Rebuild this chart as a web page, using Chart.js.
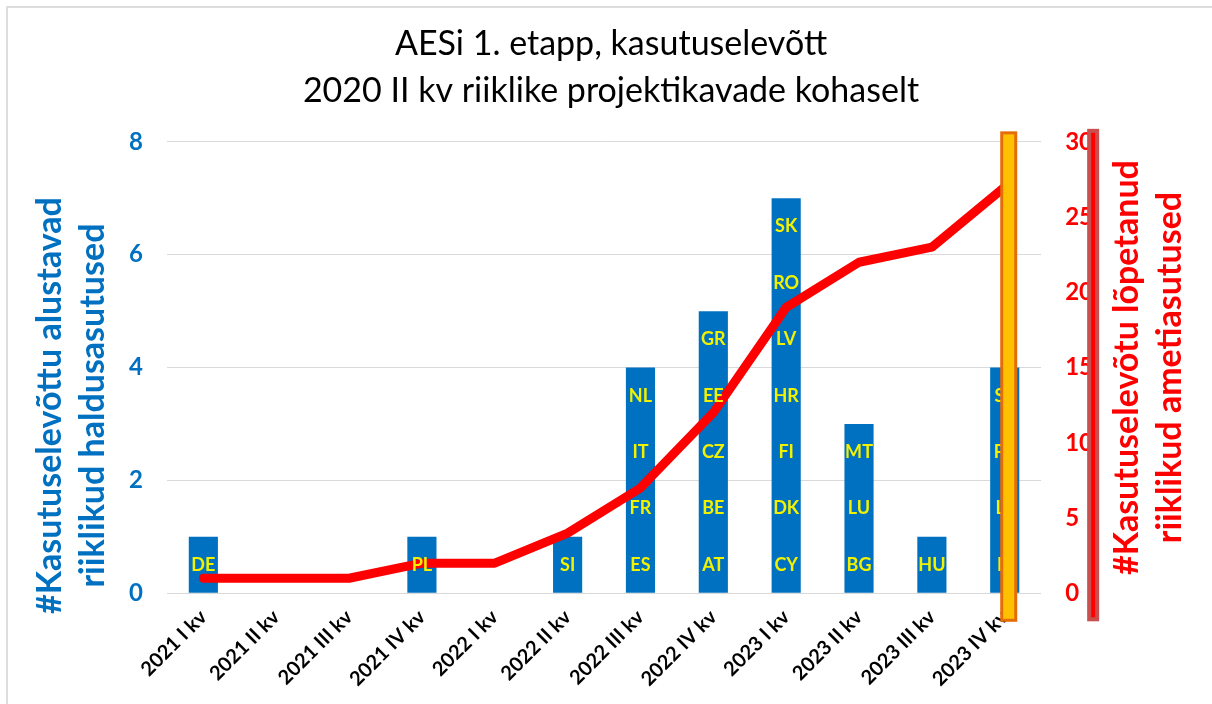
<!DOCTYPE html>
<html>
<head>
<meta charset="utf-8">
<script src="https://cdn.jsdelivr.net/npm/chart.js@4.4.1/dist/chart.umd.min.js"></script>
<style>
  body { margin: 0; background: #fff; }
  #raam { position: absolute; left: 6px; top: 6px; width: 1206px; height: 698px;
          border-left: 2px solid #dddddd; border-top: 2px solid #dddddd; }
  #graafik { position: absolute; left: 0; top: 0; }
</style>
</head>
<body>
<div id="raam"></div>
<canvas id="graafik" width="1212" height="704"></canvas>
<script>
// kvartalid
const kvartalid = ["2021 I kv", "2021 II kv", "2021 III kv", "2021 IV kv",
  "2022 I kv", "2022 II kv", "2022 III kv", "2022 IV kv",
  "2023 I kv", "2023 II kv", "2023 III kv", "2023 IV kv"];
// kasutuselevõttu alustavad (tulbad)
const alustavad = [1, 0, 0, 1, 0, 1, 4, 5, 7, 3, 1, 4];
// kasutuselevõtu lõpetanud, kumulatiivne (joon)
const lopetanud = [1, 1, 1, 2, 2, 4, 7, 12, 19, 22, 23, 27];
// riigid tulpade sees
const riigid = [["DE"], [], [], ["PL"], [], ["SI"],
  ["ES", "FR", "IT", "NL"],
  ["AT", "BE", "CZ", "EE", "GR"],
  ["CY", "DK", "FI", "HR", "LV", "RO", "SK"],
  ["BG", "LU", "MT"],
  ["HU"],
  ["IE", "LT", "PT", "SE"]];
const vasakTikid = [0, 2, 4, 6, 8];
const paremTikid = [0, 5, 10, 15, 20, 25, 30];
const vasakPealkiri = ["#Kasutuselevõttu alustavad", "riiklikud haldusasutused"];
const paremPealkiri = ["#Kasutuselevõtu lõpetanud", "riiklikud ametiasutused"];

const sinine = "#0070C0";
const punane = "#FF0000";
const kiri = "Lato, 'Open Sans', sans-serif";

// riikide lühendid tulpadesse (joone peale, nagu Excelis)
const riigiSildid = {
  id: "riigiSildid",
  afterDatasetsDraw(chart) {
    const ctx = chart.ctx;
    const y = chart.scales.y;
    const meta = chart.getDatasetMeta(0);
    ctx.save();
    ctx.font = "bold 18px " + kiri;
    ctx.fillStyle = "#F2F200";
    ctx.textAlign = "center";
    ctx.textBaseline = "middle";
    meta.data.forEach(function (tulp, i) {
      riigid[i].forEach(function (r, k) {
        ctx.fillText(r, tulp.x, y.getPixelForValue(k + 0.5));
      });
    });
    ctx.restore();
  }
};

// telgede pealkirjad (mõlemad loetavad alt üles)
const teljePealkirjad = {
  id: "teljePealkirjad",
  afterDraw(chart) {
    const ctx = chart.ctx;
    const ala = chart.chartArea;
    const kesk = (ala.top + ala.bottom) / 2;
    function kirjuta(read, x0, yk, varv) {
      ctx.save();
      ctx.translate(x0, yk);
      ctx.rotate(-Math.PI / 2);
      ctx.font = "bold 34px " + kiri;
      ctx.fillStyle = varv;
      ctx.textAlign = "center";
      ctx.textBaseline = "middle";
      read.forEach(function (r, i) { ctx.fillText(r, 0, i * 43); });
      ctx.restore();
    }
    kirjuta(vasakPealkiri, chart.scales.y.left - 55, kesk + 38, sinine);
    kirjuta(paremPealkiri, chart.scales.y1.right + 10, kesk, punane);
  }
};

// oranž ja punane püstine riba
const ribad = {
  id: "ribad",
  afterDraw(chart) {
    const ctx = chart.ctx;
    const ala = chart.chartArea;
    const x = chart.scales.x;
    const y1 = chart.scales.y1;
    ctx.save();
    // oranž
    let xo = x.getPixelForValue(kvartalid.length - 1) + 4;
    ctx.fillStyle = "#FFC000";
    ctx.strokeStyle = "#E46C0A";
    ctx.lineWidth = 3;
    ctx.fillRect(xo - 7, ala.top - 9, 14, ala.bottom - ala.top + 36);
    ctx.strokeRect(xo - 7, ala.top - 9, 14, ala.bottom - ala.top + 36);
    // punane
    let xp = y1.left + 52;
    ctx.fillStyle = "#FF0000";
    ctx.strokeStyle = "#C9504F";
    ctx.lineWidth = 4;
    ctx.fillRect(xp - 4, ala.top - 11, 8, ala.bottom - ala.top + 37);
    ctx.strokeRect(xp - 4, ala.top - 11, 8, ala.bottom - ala.top + 37);
    ctx.restore();
  }
};

new Chart("graafik", {
  type: "bar",
  data: {
    labels: kvartalid,
    datasets: [{
      type: "bar",
      label: "alustavad",
      data: alustavad,
      backgroundColor: sinine,
      yAxisID: "y",
      barPercentage: 0.8,
      categoryPercentage: 0.5,
      order: 2
    }, {
      type: "line",
      label: "lõpetanud",
      data: lopetanud,
      borderColor: punane,
      borderWidth: 9,
      borderCapStyle: "round",
      borderJoinStyle: "round",
      pointRadius: 0,
      tension: 0,
      fill: false,
      yAxisID: "y1",
      order: 1
    }]
  },
  options: {
    responsive: false,
    animation: false,
    layout: { padding: { left: 105, right: 95, top: 0, bottom: 9 } },
    plugins: {
      legend: { display: false },
      tooltip: { enabled: false },
      title: {
        display: true,
        text: ["AESi 1. etapp, kasutuselevõtt", "2020 II kv riiklike projektikavade kohaselt"],
        color: "#000",
        font: { family: kiri, size: 34, weight: "normal", lineHeight: 1.38 },
        padding: { top: 21, bottom: 27 }
      }
    },
    scales: {
      x: {
        grid: { display: false },
        border: { display: false },
        ticks: {
          color: "#000",
          font: { family: kiri, size: 20, weight: "bold" },
          maxRotation: 45,
          minRotation: 45,
          padding: 4
        }
      },
      y: {
        position: "left",
        min: 0,
        max: 8,
        afterBuildTicks(ax) { ax.ticks = vasakTikid.map(v => ({ value: v })); },
        grid: { color: "#d9d9d9", drawTicks: false },
        border: { display: false },
        ticks: {
          color: sinine,
          font: { family: kiri, size: 24, weight: "bold" },
          padding: 24
        }
      },
      y1: {
        position: "right",
        min: 0,
        max: 30,
        afterBuildTicks(ax) { ax.ticks = paremTikid.map(v => ({ value: v })); },
        grid: { display: false, drawTicks: false },
        border: { display: false },
        ticks: {
          color: punane,
          font: { family: kiri, size: 24, weight: "bold" },
          padding: 24
        }
      }
    }
  },
  plugins: [riigiSildid, teljePealkirjad, ribad]
});
</script>
</body>
</html>
